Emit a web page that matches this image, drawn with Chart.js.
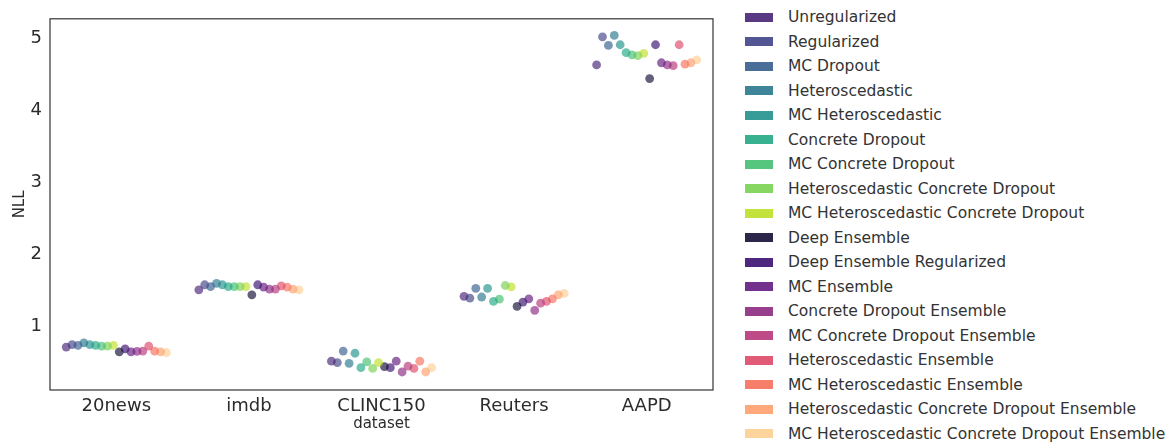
<!DOCTYPE html>
<html>
<head>
<meta charset="utf-8">
<script src="https://cdn.jsdelivr.net/npm/chart.js@4.4.0/dist/chart.umd.min.js"></script>
<style>
  body { margin: 0; background: #fff; font-family: "DejaVu Sans", sans-serif; }
  #wrap { position: relative; width: 1166px; height: 442px; overflow: hidden; }
  #plot { position: absolute; left: 0; top: 0; width: 720px; height: 442px; }
  #legend { position: absolute; left: 745px; top: 0; }
  .item { position: absolute; left: 0; height: 20px; display: flex; align-items: center; white-space: nowrap;
          font-size: 15.5px; color: #333; }
  .swatch { width: 28px; height: 9px; margin-right: 15px; flex: none; }
</style>
</head>
<body>
<div id="wrap">
  <div id="plot"><canvas id="nll-chart"></canvas></div>
  <div id="legend"></div>
</div>
<script>
// Dataset names along the x axis
const categories = ['20news', 'imdb', 'CLINC150', 'Reuters', 'AAPD'];

// Methods (hue levels), in legend order
const methods = [
  'Unregularized', 'Regularized', 'MC Dropout', 'Heteroscedastic', 'MC Heteroscedastic',
  'Concrete Dropout', 'MC Concrete Dropout', 'Heteroscedastic Concrete Dropout',
  'MC Heteroscedastic Concrete Dropout', 'Deep Ensemble', 'Deep Ensemble Regularized',
  'MC Ensemble', 'Concrete Dropout Ensemble', 'MC Concrete Dropout Ensemble',
  'Heteroscedastic Ensemble', 'MC Heteroscedastic Ensemble',
  'Heteroscedastic Concrete Dropout Ensemble', 'MC Heteroscedastic Concrete Dropout Ensemble'
];

// viridis for single models, magma for ensembles
const colors = [
  '#482475', '#414487', '#355f8d', '#2a788e', '#21918c', '#22a884', '#44bf70', '#7ad151', '#bddf26',
  '#140e36', '#3b0f70', '#641a80', '#8c2981', '#b73779', '#de4968', '#f7705c', '#fe9f6d', '#fecf92'
];

// NLL per method, one array per dataset
const nll20news  = [0.715, 0.75, 0.74, 0.775, 0.75, 0.74, 0.73, 0.73, 0.74,
                    0.65, 0.69, 0.65, 0.655, 0.66, 0.73, 0.66, 0.65, 0.64];
const nllImdb    = [1.51, 1.58, 1.555, 1.60, 1.58, 1.555, 1.555, 1.555, 1.555,
                    1.44, 1.58, 1.547, 1.52, 1.52, 1.565, 1.547, 1.52, 1.51];
const nllClinc   = [0.52, 0.50, 0.66, 0.49, 0.63, 0.43, 0.51, 0.42, 0.50,
                    0.445, 0.43, 0.52, 0.37, 0.45, 0.42, 0.52, 0.37, 0.43];
const nllReuters = [1.42, 1.395, 1.53, 1.41, 1.53, 1.35, 1.38, 1.57, 1.55,
                    1.28, 1.34, 1.385, 1.225, 1.325, 1.35, 1.385, 1.44, 1.46];
const nllAapd    = [4.63, 5.02, 4.90, 5.04, 4.91, 4.80, 4.77, 4.76, 4.79,
                    4.44, 4.91, 4.66, 4.63, 4.62, 4.91, 4.64, 4.66, 4.70];

const yTicks = [1, 2, 3, 4, 5];

const seriesByCategory = [nll20news, nllImdb, nllClinc, nllReuters, nllAapd];

function withAlpha(hex, a) {
  const n = parseInt(hex.slice(1), 16);
  return `rgba(${(n >> 16) & 255}, ${(n >> 8) & 255}, ${n & 255}, ${a})`;
}

// dodge: each method gets its own slot inside a 0.8 wide band
const bandWidth = 0.8;
function dodge(i) {
  return -bandWidth / 2 + (i + 0.5) * bandWidth / methods.length;
}

const datasets = methods.map((name, i) => ({
  label: name,
  data: categories.map((c, j) => ({ x: j + dodge(i), y: seriesByCategory[j][i] })),
  backgroundColor: withAlpha(colors[i], 0.66),
  borderWidth: 0,
  pointRadius: 4.4,
  pointHoverRadius: 4.4
}));

// axes box on all four sides
const frame = {
  id: 'frame',
  afterDraw(chart) {
    const { ctx, chartArea: a } = chart;
    ctx.save();
    ctx.strokeStyle = '#333';
    ctx.lineWidth = 1.2;
    ctx.strokeRect(a.left, a.top, a.right - a.left, a.bottom - a.top);
    ctx.restore();
  }
};

const tickColor = '#2b2b2b';

new Chart(document.getElementById('nll-chart'), {
  type: 'scatter',
  data: { datasets },
  plugins: [frame],
  options: {
    responsive: true,
    maintainAspectRatio: false,
    animation: false,
    layout: { padding: { top: 16, right: 7, left: 0, bottom: 0 } },
    plugins: { legend: { display: false }, tooltip: { enabled: false } },
    scales: {
      x: {
        type: 'linear',
        min: -0.5,
        max: 4.5,
        afterBuildTicks: s => { s.ticks = categories.map((c, i) => ({ value: i })); },
        afterFit: s => { s.height = 52; },
        grid: { display: false, drawTicks: false },
        border: { display: false },
        ticks: {
          callback: v => categories[v],
          font: { family: 'DejaVu Sans', size: 18 },
          color: tickColor,
          padding: 6,
          maxRotation: 0
        },
        title: {
          display: true,
          text: 'dataset',
          font: { family: 'DejaVu Sans', size: 15 },
          color: tickColor,
          padding: { top: 0, bottom: 9 }
        }
      },
      y: {
        min: 0.12,
        max: 5.27,
        afterBuildTicks: s => { s.ticks = yTicks.map(v => ({ value: v })); },
        afterFit: s => { s.width = 50; },
        grid: { display: false, drawTicks: false },
        border: { display: false },
        ticks: {
          font: { family: 'DejaVu Sans', size: 18 },
          color: tickColor,
          padding: 8
        },
        title: {
          display: true,
          text: 'NLL',
          font: { family: 'DejaVu Sans', size: 15 },
          color: tickColor,
          padding: { top: 11, bottom: 0 }
        }
      }
    }
  }
});

// legend beside the plot
const legend = document.getElementById('legend');
methods.forEach((name, i) => {
  const row = document.createElement('div');
  row.className = 'item';
  row.style.top = (7 + i * 24.5) + 'px';
  const sw = document.createElement('span');
  sw.className = 'swatch';
  sw.style.background = withAlpha(colors[i], 0.9);
  const label = document.createElement('span');
  label.textContent = name;
  row.appendChild(sw);
  row.appendChild(label);
  legend.appendChild(row);
});
</script>
</body>
</html>
